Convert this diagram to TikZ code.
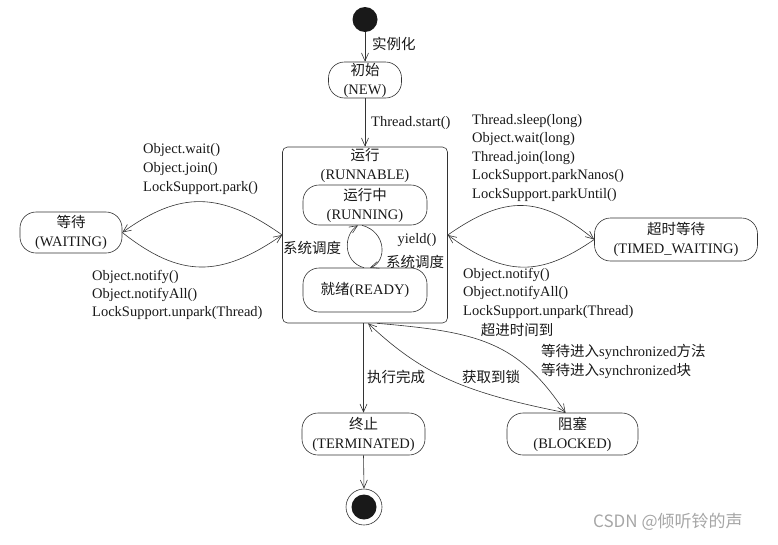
\documentclass[tikz,border=0pt]{standalone}
\usepackage{fontspec}
\setmainfont{Liberation Serif}
\newfontfamily\cjk{Noto Sans CJK SC}
\usetikzlibrary{arrows.meta}
\newcommand{\zh}[1]{{\cjk #1}}
\begin{document}
\begin{tikzpicture}[x=1pt,y=-1pt,
  every node/.style={inner sep=0pt, font=\fontsize{14.5}{19}\selectfont, text=black!90},
  state/.style={draw=black!80, line width=0.6pt, rounded corners=16pt, align=center},
  conn/.style={draw=black!80, line width=0.6pt, -{Straight Barb[length=8pt,width=7pt]}},
  lbl/.style={anchor=west},
]
\useasboundingbox (0,0) rectangle (778,544);

% states
\node[circle, fill=black!90, minimum size=25pt] (start) at (365,19.5) {};
\node[state, minimum width=73pt, minimum height=36pt] (new) at (365,80) {\zh{初始}\\(NEW)};
\node[draw=black!80, line width=0.6pt, rounded corners=5pt, minimum width=165pt, minimum height=176pt] (runnable) at (365,235) {};
\node[align=center] (rtitle) at (365,165) {\zh{运行}\\(RUNNABLE)};
\node[state, minimum width=124pt, minimum height=40pt] (running) at (365,205) {\zh{运行中}\\(RUNNING)};
\node[state, minimum width=124pt, minimum height=44pt] (ready) at (365,290) {\zh{就绪}(READY)};
\node[state, minimum width=102pt, minimum height=41pt] (waiting) at (71,232.5) {\zh{等待}\\(WAITING)};
\node[state, minimum width=163pt, minimum height=43pt] (timed) at (676,239.5) {\zh{超时等待}\\(TIMED\_WAITING)};
\node[state, minimum width=123pt, minimum height=42pt] (term) at (363.5,434) {\zh{终止}\\(TERMINATED)};
\node[state, minimum width=131pt, minimum height=42pt] (blocked) at (572.5,434) {\zh{阻塞}\\(BLOCKED)};
\node[circle, draw=black!80, line width=0.6pt, minimum size=36pt] (end) at (364,507) {};
\node[circle, fill=black!90, minimum size=25pt] (endin) at (364,507) {};

% connectors
\draw[conn] (start.south) -- (new.north);
\node[lbl] (l1) at (372,44) {\zh{实例化}};
\draw[conn] (new.south) -- (runnable.north);
\node[lbl] (l2) at (371,123) {Thread.start()};

\draw[conn] (runnable.west) .. controls (220,191) and (180,191) .. (waiting.east);
\draw[conn] (waiting.east) .. controls (180,278) and (220,278) .. (runnable.west);
\node[lbl] (lw1) at (143,150) {Object.wait()};
\node[lbl] (lw2) at (143,169) {Object.join()};
\node[lbl] (lw3) at (143,188) {LockSupport.park()};
\node[lbl] (ln1) at (92,277) {Object.notify()};
\node[lbl] (ln2) at (92,295) {Object.notifyAll()};
\node[lbl] (ln3) at (92,313) {LockSupport.unpark(Thread)};

\draw[conn] (runnable.east) .. controls (505,195) and (540,195) .. (timed.west);
\draw[conn] (timed.west) .. controls (540,277) and (505,277) .. (runnable.east);
\node[lbl] (rt1) at (472,121) {Thread.sleep(long)};
\node[lbl] (rt2) at (472,139) {Object.wait(long)};
\node[lbl] (rt3) at (472,158) {Thread.join(long)};
\node[lbl] (rt4) at (472,176) {LockSupport.parkNanos()};
\node[lbl] (rt5) at (472,195) {LockSupport.parkUntil()};
\node[lbl] (rn1) at (463,275) {Object.notify()};
\node[lbl] (rn2) at (463,293) {Object.notifyAll()};
\node[lbl] (rn3) at (463,312) {LockSupport.unpark(Thread)};

\draw[conn] ([xshift=-1pt]ready.north) .. controls (343,262) and (343,235) .. ([xshift=-7pt]running.south);
\draw[conn] ([xshift=-3pt]running.south) .. controls (387,232) and (387,262) .. ([xshift=5pt]ready.north);
\node (s1) at (312,248) {\zh{系统调度}};
\node (y1) at (417,240) {yield()};
\node (s2) at (415,262) {\zh{系统调度}};

\draw[conn] (term.north |- runnable.south) -- (term.north);
\node[lbl] (l3) at (367,377) {\zh{执行完成}};
\draw[conn] (term.south) -- (end.north);

\draw[conn] ([xshift=12pt]runnable.south) .. controls (480,332) and (518,342) .. ([xshift=-7pt]blocked.north);
\draw[conn] ([xshift=-7pt]blocked.north) .. controls (460,392) and (420,372) .. ([xshift=3pt]runnable.south);
\node (l4) at (517,330) {\zh{超进时间到}};
\node[lbl] (l5) at (541,352) {\zh{等待进入}synchronized\zh{方法}};
\node[lbl] (l6) at (541,371) {\zh{等待进入}synchronized\zh{块}};
\node (l7) at (491,377) {\zh{获取到锁}};

\node[anchor=west, font=\cjk\fontsize{17}{20}\selectfont, text=black!35] (wm) at (593,522) {CSDN @倾听铃的声};
\end{tikzpicture}
\end{document}
